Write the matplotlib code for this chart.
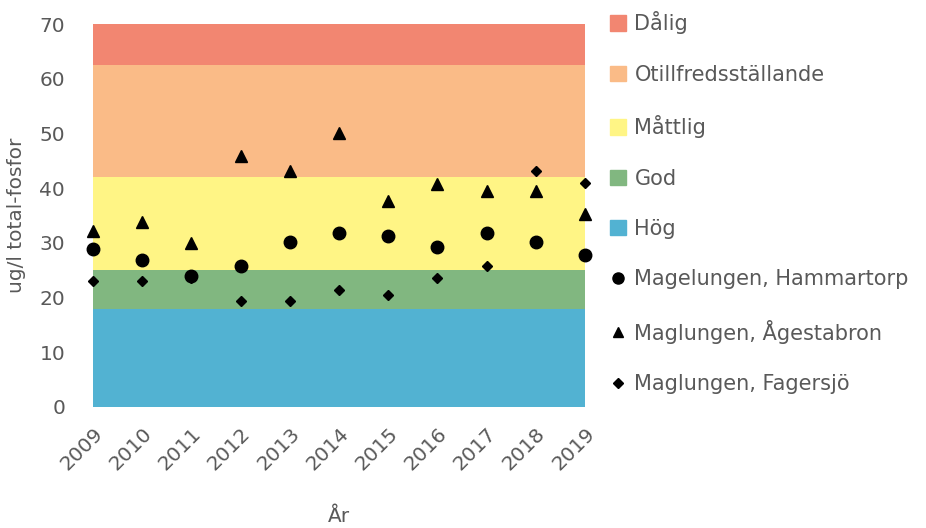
import matplotlib.pyplot as plt
from matplotlib.patches import Patch
from matplotlib.lines import Line2D
import numpy as np

plt.rcParams['font.family'] = ['DejaVu Sans']

years = [2009, 2010, 2011, 2012, 2013, 2014, 2015, 2016, 2017, 2018, 2019]
hammartorp = [28.9, 26.9, 23.9, 25.8, 30.2, 31.8, 31.2, 29.2, 31.8, 30.2, 27.8]
agestabron = [32.1, 33.8, 30.0, 45.8, 43.1, 50.1, 37.7, 40.8, 39.4, 39.4, 35.3]
fagersjo = [23.1, 23.1, 23.5, 19.4, 19.4, 21.4, 20.5, 23.5, 25.8, 43.2, 40.9]

# class limits, ug/l total phosphorus
band_names = ['Hög', 'God', 'Måttlig', 'Otillfredsställande', 'Dålig']
band_tops = [18, 25, 42, 62.5, 70]
band_colors = ['#52B2D2', '#81B780', '#FFF585', '#FABB87', '#F28671']

grey = '#595959'

fig = plt.figure(figsize=(9.26, 5.28), dpi=100)
ax = fig.add_axes([0.1004, 0.2292, 0.5313, 0.7253])

x = np.array([years[0], years[-1]])
low = 0
for name, top, col in zip(band_names, band_tops, band_colors):
    ax.fill_between(x, low, top, color=col, linewidth=0)
    low = top

ax.plot(years, hammartorp, 'o', color='black', markersize=9, clip_on=False, zorder=5)
ax.plot(years, agestabron, '^', color='black', markersize=8, clip_on=False, zorder=5)
ax.plot(years, fagersjo, 'D', color='black', markersize=5.5, clip_on=False, zorder=5)

ax.set_xlim(years[0], years[-1])
ax.set_ylim(0, 70)
ax.set_yticks(range(0, 71, 10))
ax.set_xticks(years)
ax.set_xticklabels([str(y) for y in years], rotation=45, ha='right', rotation_mode='anchor')
for s in ax.spines.values():
    s.set_visible(False)
ax.tick_params(length=0, labelsize=14.5, colors=grey)
ax.tick_params(axis='y', pad=20)
ax.tick_params(axis='x', pad=12)
ax.set_ylabel('ug/l total-fosfor', fontsize=14.5, color=grey, labelpad=10)
ax.set_xlabel('År', fontsize=14.5, color=grey, labelpad=24)

handles = [Patch(color=c) for c in band_colors[::-1]]
labels = band_names[::-1]
handles += [Line2D([], [], marker='o', color='black', linestyle='', markersize=8),
            Line2D([], [], marker='^', color='black', linestyle='', markersize=7),
            Line2D([], [], marker='D', color='black', linestyle='', markersize=5)]
labels += ['Magelungen, Hammartorp', 'Maglungen, Ågestabron', 'Maglungen, Fagersjö']
leg = fig.legend(handles, labels, loc='upper left', bbox_to_anchor=(0.639, 1.014),
                 frameon=False, fontsize=15, labelspacing=1.46, handlelength=0.75,
                 handleheight=0.75, handletextpad=0.4)
for t in leg.get_texts():
    t.set_color(grey)

plt.savefig('out.png')
